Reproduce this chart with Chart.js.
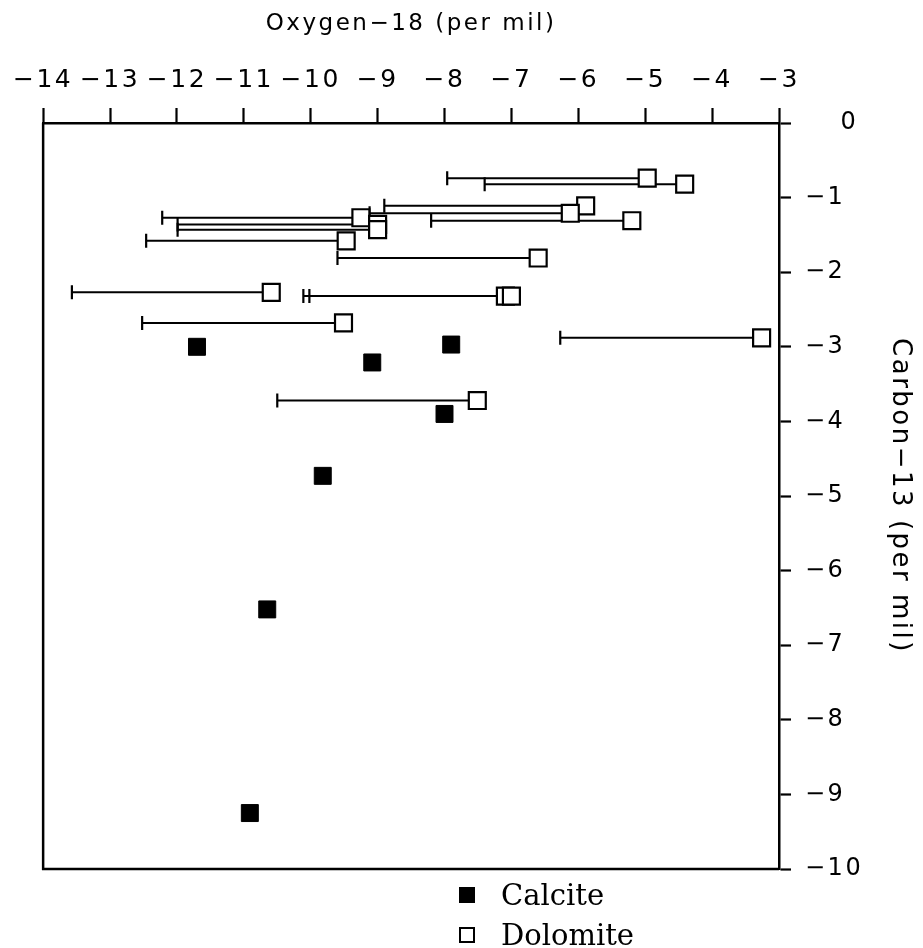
<!DOCTYPE html>
<html>
<head>
<meta charset="utf-8">
<script src="https://cdn.jsdelivr.net/npm/chart.js@4.4.1/dist/chart.umd.min.js"></script>
<style>
  html, body { margin: 0; padding: 0; background: #fff; }
  #wrap { position: relative; width: 923px; height: 948px; background: #fff; }
  #c { position: absolute; left: 0; top: 0; }
  .leg { position: absolute; left: 459px; font-family: "DejaVu Serif", serif; font-size: 29px; color: #000; line-height: 34px; height: 34px; white-space: nowrap; }
  .leg .mk { display: inline-block; width: 16px; height: 16px; box-sizing: border-box; vertical-align: middle; margin-right: 26px; position: relative; top: -2px; }
  .mk.fill { background: #000; }
  .mk.open { border: 2px solid #000; background: #fff; }
</style>
</head>
<body>
<div id="wrap">
  <canvas id="c" width="923" height="948"></canvas>
  <div class="leg" style="top:878px"><span class="mk fill"></span>Calcite</div>
  <div class="leg" style="top:918px"><span class="mk open"></span>Dolomite</div>
</div>
<script>
// ---- data (per mil) ----
const xTicks = [-14, -13, -12, -11, -10, -9, -8, -7, -6, -5, -4, -3];
const yTicks = [0, -1, -2, -3, -4, -5, -6, -7, -8, -9, -10];

const calciteO18 = [-11.70, -7.90, -9.08, -8.00, -9.82, -10.65, -10.91];
const calciteC13 = [-3.00, -2.97, -3.21, -3.90, -4.73, -6.52, -9.25];

const dolomiteO18 = [-4.97, -4.41, -5.89, -6.12, -5.20, -9.25, -9.00, -9.00, -9.47, -6.60, -10.59, -7.09, -7.00, -9.51, -3.26, -7.51];
const dolomiteC13 = [-0.74, -0.82, -1.11, -1.21, -1.31, -1.27, -1.36, -1.43, -1.58, -1.81, -2.27, -2.32, -2.32, -2.68, -2.88, -3.72];
const dolomiteLow = [-7.96, -7.40, -8.90, -9.12, -8.20, -12.22, -11.99, -11.99, -12.46, -9.60, -13.57, -10.11, -10.02, -12.52, -6.27, -10.50];

const xTitle = 'Oxygen\u221218 (per mil)';
const yTitle = 'Carbon\u221213 (per mil)';

// ---- build ----
const fmt = v => (v < 0 ? '\u2212' + Math.abs(v) : String(v));

const datasets = [
  {
    label: 'Calcite',
    data: calciteO18.map((x, i) => ({ x, y: calciteC13[i] })),
    pointStyle: 'rect', pointRadius: 12, pointBackgroundColor: '#000',
    pointBorderColor: '#000', pointBorderWidth: 1, showLine: false, order: 0
  },
  {
    label: 'Dolomite',
    data: dolomiteO18.map((x, i) => ({ x, y: dolomiteC13[i] })),
    pointStyle: 'rect', pointRadius: 12, pointBackgroundColor: '#fff',
    pointBorderColor: '#000', pointBorderWidth: 2.2, showLine: false, order: 0
  }
];
dolomiteO18.forEach((x, i) => {
  datasets.push({
    label: 'range' + i,
    data: [{ x: dolomiteLow[i], y: dolomiteC13[i] }, { x, y: dolomiteC13[i] }],
    showLine: true, borderColor: '#000', borderWidth: 2,
    pointStyle: 'line', pointRadius: [7, 0], pointRotation: [90, 0],
    pointBorderWidth: 2.2, pointBorderColor: '#000', order: 1
  });
});

const spacing = '2.5px';
const textPlugin = {
  id: 'spacing',
  beforeLayout(chart) { chart.ctx.letterSpacing = spacing; },
  beforeDraw(chart) { chart.ctx.letterSpacing = spacing; }
};

const framePlugin = {
  id: 'frame',
  afterDatasetsDraw(chart) {
    const { ctx, chartArea: a } = chart;
    ctx.save();
    ctx.strokeStyle = '#000';
    ctx.lineWidth = 2.5;
    ctx.beginPath();
    ctx.moveTo(a.left, a.top);
    ctx.lineTo(a.left, a.bottom);
    ctx.lineTo(a.right, a.bottom);
    ctx.stroke();
    ctx.restore();
  }
};

new Chart(document.getElementById('c'), {
  type: 'scatter',
  data: { datasets },
  plugins: [textPlugin, framePlugin],
  options: {
    responsive: false,
    animation: false,
    layout: { padding: { left: 41, top: 0, right: 0, bottom: 79 } },
    plugins: { legend: { display: false }, tooltip: { enabled: false } },
    scales: {
      x: {
        type: 'linear', position: 'top', min: -14, max: -3,
        afterBuildTicks: s => { s.ticks = xTicks.map(v => ({ value: v })); },
        afterFit: s => { s.height = 123; },
        ticks: {
          color: '#000', padding: 13, maxRotation: 0, autoSkip: false,
          font: { family: 'DejaVu Sans', size: 25 },
          callback: v => fmt(v)
        },
        grid: { drawOnChartArea: false, drawTicks: true, tickLength: 15, tickWidth: 2.2, tickColor: '#000' },
        border: { display: true, color: '#000', width: 2.5 },
        title: { display: true, text: xTitle, color: '#000', font: { family: 'DejaVu Sans', size: 23 }, padding: { top: 10, bottom: 0 } }
      },
      y: {
        type: 'linear', position: 'right', min: -10, max: 0,
        afterBuildTicks: s => { s.ticks = yTicks.map(v => ({ value: v })); },
        afterFit: s => { s.width = 144; },
        ticks: {
          color: '#000', padding: 14, autoSkip: false,
          font: { family: 'DejaVu Sans', size: 24 },
          callback: v => (v === 0 ? '\u2007\u20070' : fmt(v))
        },
        grid: { drawOnChartArea: false, drawTicks: true, tickLength: 12, tickWidth: 2.2, tickColor: '#000' },
        border: { display: true, color: '#000', width: 2.5 },
        title: { display: true, text: yTitle, color: '#000', font: { family: 'DejaVu Sans', size: 26 }, padding: { top: 8, bottom: 0 } }
      }
    }
  }
});
</script>
</body>
</html>
